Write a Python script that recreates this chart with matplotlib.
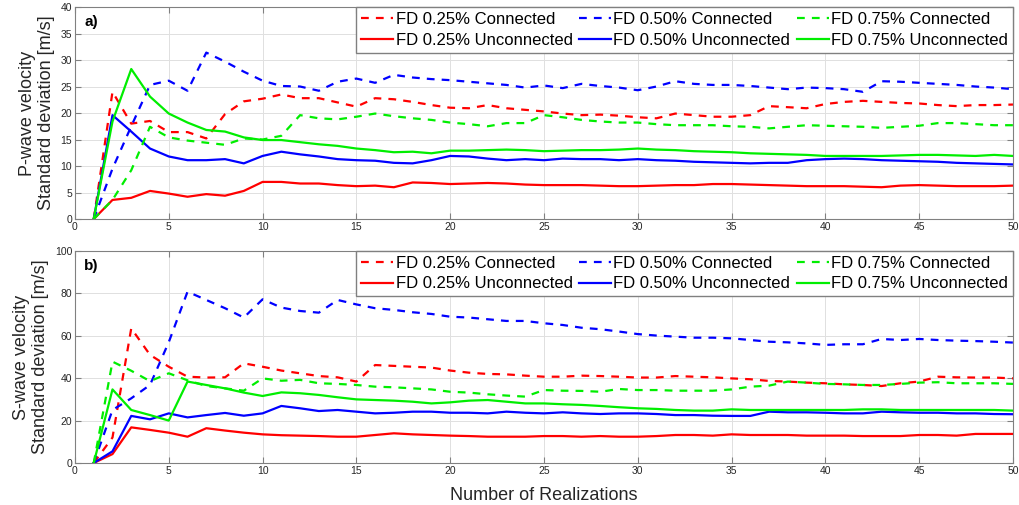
import numpy as np
import matplotlib
matplotlib.use("Agg")
import matplotlib.pyplot as plt

plt.rcParams['font.family'] = ['Liberation Sans', 'DejaVu Sans']

realizations = np.arange(1, 51)

# P-wave velocity standard deviation [m/s]
p_fd25_con = [0, 24.0, 18.0, 18.5, 16.4, 16.4, 15.2, 19.8, 22.2, 22.7,
              23.5, 22.8, 22.8, 22.0, 21.2, 22.8, 22.6, 22.1, 21.5, 21.0,
              20.9, 21.5, 20.9, 20.6, 20.3, 19.9, 19.6, 19.7, 19.5, 19.2,
              19.0, 19.9, 19.6, 19.3, 19.3, 19.6, 21.3, 21.1, 20.9, 21.7,
              22.1, 22.3, 22.1, 21.9, 21.8, 21.5, 21.3, 21.5, 21.5, 21.6]
p_fd50_con = [0, 9.5, 17.5, 25.3, 26.1, 24.2, 31.4, 29.7, 27.8, 26.1,
              25.1, 25.0, 24.2, 25.9, 26.5, 25.7, 27.2, 26.7, 26.4, 26.2,
              25.9, 25.6, 25.3, 24.8, 25.2, 24.7, 25.5, 25.1, 24.8, 24.3,
              25.0, 26.0, 25.5, 25.3, 25.3, 25.1, 24.8, 24.5, 24.8, 24.7,
              24.5, 24.0, 26.0, 25.9, 25.7, 25.5, 25.3, 25.0, 24.8, 24.5]
p_fd75_con = [0, 3.6, 9.2, 17.4, 15.4, 14.8, 14.4, 14.0, 15.2, 15.0,
              15.7, 19.6, 19.0, 18.8, 19.3, 19.9, 19.4, 19.0, 18.7, 18.2,
              17.9, 17.5, 18.1, 18.1, 19.6, 19.2, 18.7, 18.4, 18.2, 18.2,
              17.9, 17.7, 17.7, 17.7, 17.5, 17.4, 17.1, 17.4, 17.7, 17.6,
              17.5, 17.4, 17.2, 17.4, 17.6, 18.1, 18.1, 17.9, 17.7, 17.7]
p_fd25_unc = [0, 3.6, 4.0, 5.3, 4.8, 4.2, 4.7, 4.4, 5.3, 7.0,
              7.0, 6.7, 6.7, 6.4, 6.2, 6.3, 6.0, 6.9, 6.8, 6.6,
              6.7, 6.8, 6.7, 6.5, 6.4, 6.4, 6.4, 6.3, 6.2, 6.2,
              6.3, 6.4, 6.4, 6.6, 6.6, 6.5, 6.4, 6.3, 6.2, 6.2,
              6.2, 6.1, 6.0, 6.3, 6.4, 6.3, 6.2, 6.2, 6.2, 6.3]
p_fd50_unc = [0, 19.6, 16.5, 13.3, 11.8, 11.1, 11.1, 11.3, 10.5, 11.9,
              12.7, 12.2, 11.8, 11.3, 11.1, 11.0, 10.6, 10.5, 11.1, 11.9,
              11.8, 11.4, 11.1, 11.3, 11.1, 11.4, 11.3, 11.3, 11.1, 11.3,
              11.1, 11.0, 10.8, 10.7, 10.6, 10.5, 10.6, 10.6, 11.1, 11.3,
              11.4, 11.3, 11.1, 11.0, 10.9, 10.8, 10.6, 10.5, 10.4, 10.3]
p_fd75_unc = [0, 18.4, 28.3, 23.1, 19.9, 18.2, 16.8, 16.5, 15.4, 14.9,
              14.9, 14.5, 14.1, 13.8, 13.3, 13.0, 12.6, 12.7, 12.4, 12.9,
              12.9, 13.0, 13.1, 13.0, 12.8, 12.9, 13.0, 13.0, 13.1, 13.3,
              13.1, 13.0, 12.8, 12.7, 12.6, 12.4, 12.3, 12.2, 12.1, 11.9,
              11.9, 11.9, 11.9, 12.0, 12.1, 12.1, 12.0, 11.9, 12.1, 11.9]

# S-wave velocity standard deviation [m/s]
s_fd25_con = [0, 12.0, 63.5, 51.0, 45.4, 40.7, 40.3, 40.4, 47.0, 45.4,
              43.6, 42.3, 41.0, 40.4, 38.4, 46.2, 45.8, 45.4, 45.0, 43.6,
              42.6, 42.0, 41.8, 41.2, 40.7, 40.7, 41.2, 41.0, 40.7, 40.3,
              40.3, 41.0, 40.7, 40.4, 39.9, 39.5, 38.7, 38.4, 37.9, 37.6,
              37.1, 36.8, 36.3, 37.6, 38.4, 40.7, 40.4, 40.3, 40.3, 39.9]
s_fd50_con = [0, 25.0, 30.5, 36.8, 57.0, 80.8, 76.9, 73.0, 68.6, 77.2,
              73.3, 71.7, 70.9, 76.9, 74.8, 73.0, 72.2, 71.1, 70.3, 69.0,
              68.6, 67.8, 67.0, 67.0, 65.9, 65.1, 63.8, 63.1, 62.0, 60.8,
              60.1, 59.6, 59.1, 59.1, 58.8, 58.0, 57.2, 56.9, 56.4, 55.7,
              56.0, 56.0, 58.5, 58.0, 58.5, 58.0, 57.7, 57.5, 57.2, 56.8]
s_fd75_con = [0, 47.8, 43.5, 38.6, 42.3, 39.0, 36.3, 35.2, 34.1, 39.9,
              38.8, 39.2, 37.6, 37.3, 36.8, 36.0, 35.7, 35.2, 34.7, 33.6,
              33.2, 32.4, 31.8, 31.3, 34.4, 34.1, 34.0, 33.6, 34.9, 34.4,
              34.4, 34.1, 34.1, 34.1, 34.7, 36.0, 36.5, 38.4, 37.9, 37.3,
              37.1, 36.8, 36.8, 37.3, 37.9, 38.1, 37.6, 37.6, 37.6, 37.3]
s_fd25_unc = [0, 4.2, 16.8, 15.6, 14.3, 12.4, 16.4, 15.3, 14.3, 13.5,
              13.1, 12.9, 12.7, 12.4, 12.4, 13.2, 14.0, 13.5, 13.2, 12.9,
              12.7, 12.4, 12.4, 12.4, 12.7, 12.7, 12.4, 12.7, 12.4, 12.4,
              12.7, 13.2, 13.2, 12.9, 13.5, 13.2, 13.2, 13.2, 12.9, 12.9,
              12.9, 12.7, 12.7, 12.7, 13.2, 13.2, 12.9, 13.7, 13.7, 13.7]
s_fd50_unc = [0, 5.5, 22.2, 20.6, 23.4, 21.5, 22.6, 23.6, 22.3, 23.4,
              26.9, 25.8, 24.5, 25.0, 24.2, 23.4, 23.7, 24.2, 24.2, 23.7,
              23.7, 23.4, 24.2, 23.7, 23.4, 23.9, 23.4, 23.1, 23.4, 23.4,
              23.1, 22.6, 22.6, 22.3, 22.2, 22.2, 24.2, 23.9, 23.9, 23.7,
              23.4, 23.4, 24.2, 23.9, 23.7, 23.7, 23.4, 23.4, 23.1, 23.0]
s_fd75_unc = [0, 34.7, 25.0, 22.6, 20.0, 38.4, 36.8, 35.2, 33.2, 31.6,
              33.3, 32.9, 32.1, 31.0, 30.0, 29.7, 29.4, 28.9, 28.1, 28.6,
              29.4, 29.7, 28.9, 28.1, 28.1, 27.7, 27.4, 26.9, 26.3, 25.8,
              25.5, 25.0, 24.7, 24.7, 25.3, 25.0, 25.0, 25.0, 25.0, 25.0,
              25.0, 25.3, 25.3, 25.0, 25.0, 25.0, 25.0, 25.0, 25.0, 24.7]

labels = ["FD 0.25% Connected", "FD 0.25% Unconnected",
          "FD 0.50% Connected", "FD 0.50% Unconnected",
          "FD 0.75% Connected", "FD 0.75% Unconnected"]
colors = ["#ff0000", "#ff0000", "#0000ff", "#0000ff", "#00ee00", "#00ee00"]
styles = ["--", "-", "--", "-", "--", "-"]

p_series = [p_fd25_con, p_fd25_unc, p_fd50_con, p_fd50_unc, p_fd75_con, p_fd75_unc]
s_series = [s_fd25_con, s_fd25_unc, s_fd50_con, s_fd50_unc, s_fd75_con, s_fd75_unc]

fig = plt.figure(figsize=(10.2, 5.05), dpi=100)
ax1 = fig.add_axes([0.0735, 0.5663, 0.9196, 0.4198])
ax2 = fig.add_axes([0.0735, 0.0832, 0.9196, 0.4198])


def style_axes(ax, ymax, ystep, ylabel, tag):
    ax.set_xlim(0, 50)
    ax.set_ylim(0, ymax)
    ax.set_xticks(np.arange(0, 51, 5))
    ax.set_yticks(np.arange(0, ymax + 1, ystep))
    ax.grid(True, color="#e0e0e0", linewidth=0.7)
    ax.set_axisbelow(True)
    ax.tick_params(direction="in", top=True, right=True, length=4,
                   color="#808080", labelcolor="#262626", labelsize=7.5, pad=2)
    for sp in ax.spines.values():
        sp.set_color("#808080")
        sp.set_linewidth(0.8)
    ax.set_ylabel(ylabel, fontsize=13, color="#262626", labelpad=4,
                  linespacing=1.15)
    ax.text(0.01, 0.93, tag, transform=ax.transAxes, fontsize=11,
            fontweight="bold", va="center", ha="left")
    ax.legend(loc="upper right", ncol=3, fontsize=12, frameon=True,
              fancybox=False, framealpha=1, edgecolor="#808080",
              borderaxespad=0.0, handlelength=1.9, columnspacing=0.4,
              handletextpad=0.15, labelspacing=0.33, borderpad=0.3)


for vals, lab, c, ls in zip(p_series, labels, colors, styles):
    line, = ax1.plot(realizations, vals, ls, color=c, linewidth=1.6, label=lab)
    if ls == "--":
        line.set_dashes((3.5, 3.2))
for vals, lab, c, ls in zip(s_series, labels, colors, styles):
    line, = ax2.plot(realizations, vals, ls, color=c, linewidth=1.6, label=lab)
    if ls == "--":
        line.set_dashes((3.5, 3.2))

style_axes(ax1, 40, 5, "P-wave velocity\nStandard deviation [m/s]", "a)")
style_axes(ax2, 100, 20, "S-wave velocity\nStandard deviation [m/s]", "b)")
ax2.set_xlabel("Number of Realizations", fontsize=13, color="#262626", labelpad=8)

fig.savefig("out.png", dpi=100)
